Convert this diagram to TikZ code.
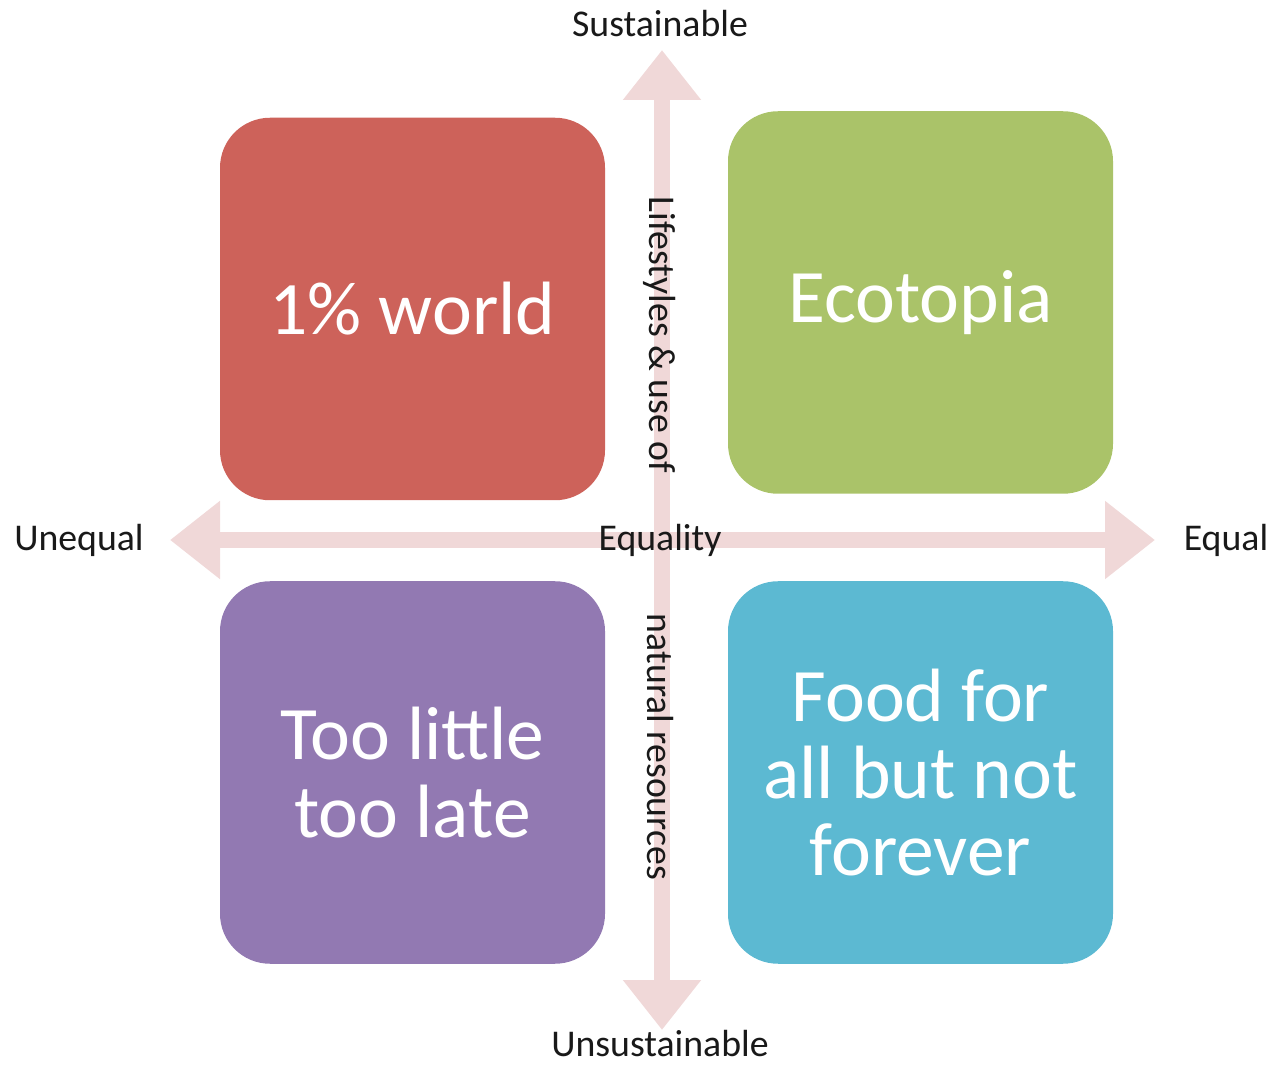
\documentclass[tikz,border=0pt]{standalone}
\usepackage{fontspec}
\setmainfont{Carlito}
\usepackage{tikz}
\usetikzlibrary{positioning,arrows.meta,shapes}
\definecolor{boxred}{RGB}{205,98,90}
\definecolor{boxgreen}{RGB}{170,195,105}
\definecolor{boxpurple}{RGB}{146,121,178}
\definecolor{boxblue}{RGB}{92,185,210}
\definecolor{axispink}{RGB}{240,216,216}
\tikzset{
  quad/.style={rounded corners=1cm, minimum width=7.7cm, minimum height=7.65cm,
    text=white, align=center, font=\fontsize{43}{44}\selectfont, inner sep=0pt},
  axis/.style={draw=axispink, line width=0.32cm,
    {Triangle[width=1.5cm,length=1cm]}-{Triangle[width=1.5cm,length=1cm]}},
  axlabel/.style={font=\fontsize{21.5}{24}\selectfont, text=black!90, inner sep=0pt}
}
\begin{document}
\begin{tikzpicture}
    \useasboundingbox (0,0) rectangle (25.46,21.3);
    \coordinate (west) at (3.4,10.5);
    \coordinate (east) at (23.1,10.5);
    \coordinate (north) at (13.24,20.3);
    \coordinate (south) at (13.24,0.7);
    \draw[axis] (west) -- (east);
    \draw[axis] (south) -- (north);
    \node[quad, fill=boxred] at (8.25,15.12) (world) {1\% world};
    \node[quad, fill=boxgreen] at (18.41,15.25) (eco) {Ecotopia};
    \node[quad, fill=boxpurple] at (8.25,5.85) (late) {Too little\\too late};
    \node[quad, fill=boxblue] at (18.41,5.85) (food) {Food for\\all but not\\forever};
    \node[axlabel] at (13.2,20.82) (sus) {Sustainable};
    \node[axlabel] at (13.2,0.42) (unsus) {Unsustainable};
    \node[axlabel] at (1.58,10.5) (uneq) {Unequal};
    \node[axlabel] at (24.52,10.5) (eq) {Equal};
    \node[axlabel] at (13.2,10.5) (equality) {Equality};
    \node[axlabel, rotate=-90] at (13.2,14.6) (life) {Lifestyles \& use of};
    \node[axlabel, rotate=-90] at (13.2,6.36) (nat) {natural resources};
\end{tikzpicture}
\end{document}
